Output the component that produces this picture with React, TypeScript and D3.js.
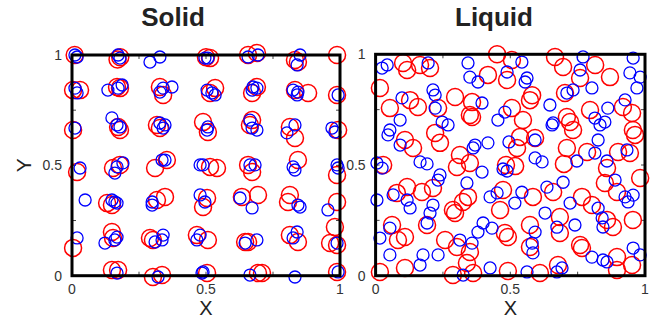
import * as d3 from "d3";
import { useEffect, useRef } from "react";

type Pt = [number, number];

// Solid: particles sitting near lattice sites (x, y in box units)
const solidRed: Pt[] = [
  [0.01, 1.0], [0.17, 0.98], [0.18, 0.99], [0.5, 0.99], [0.515, 0.986], [0.657, 1.0], [0.69, 1.009], [0.832, 0.977], [0.843, 0.968], [0.989, 1.0],
  [0.004, 0.841], [0.03, 0.841], [0.168, 0.855], [0.179, 0.85], [0.328, 0.855], [0.34, 0.819], [0.515, 0.828], [0.534, 0.85], [0.672, 0.828], [0.69, 0.855], [0.832, 0.841], [0.881, 0.828], [0.989, 0.819],
  [0.004, 0.66], [0.172, 0.674], [0.179, 0.66], [0.317, 0.683], [0.328, 0.669], [0.489, 0.696], [0.507, 0.651], [0.672, 0.705], [0.664, 0.683], [0.813, 0.674], [0.832, 0.624], [0.993, 0.66],
  [0.019, 0.47], [0.153, 0.488], [0.179, 0.502], [0.31, 0.488], [0.354, 0.524], [0.515, 0.493], [0.541, 0.488], [0.672, 0.47], [0.657, 0.502], [0.843, 0.524], [0.989, 0.456],
  [0.131, 0.329], [0.149, 0.32], [0.317, 0.343], [0.347, 0.357], [0.504, 0.352], [0.489, 0.311], [0.634, 0.357], [0.694, 0.366], [0.806, 0.334], [0.813, 0.366], [0.989, 0.334], [0.981, 0.221],
  [0.004, 0.126], [0.149, 0.198], [0.153, 0.171], [0.302, 0.162], [0.291, 0.171], [0.507, 0.162], [0.466, 0.184], [0.646, 0.153], [0.657, 0.153], [0.813, 0.184], [0.843, 0.153], [0.963, 0.148], [0.989, 0.139],
  [0.149, 0.026], [0.172, 0.026], [0.302, -0.006], [0.336, 0.003], [0.504, 0.012], [0.694, 0.012], [0.709, 0.012], [0.989, 0.017],
];

const solidBlue: Pt[] = [
  [0.011, 1.0], [0.019, 0.991], [0.172, 1.0], [0.179, 0.986], [0.291, 0.968], [0.328, 0.991], [0.496, 0.986], [0.507, 0.986], [0.657, 0.991], [0.694, 1.0], [0.851, 1.0], [0.84, 0.955],
  [0.011, 0.85], [0.019, 0.828], [0.134, 0.841], [0.172, 0.85], [0.187, 0.864], [0.34, 0.85], [0.373, 0.855], [0.328, 0.832], [0.504, 0.841], [0.522, 0.828], [0.534, 0.819], [0.675, 0.855], [0.69, 0.85], [0.672, 0.841], [0.825, 0.841], [0.84, 0.819], [0.843, 0.832], [0.993, 0.819],
  [0.011, 0.669], [0.149, 0.715], [0.168, 0.683], [0.179, 0.674], [0.328, 0.692], [0.34, 0.669], [0.347, 0.683], [0.507, 0.674], [0.504, 0.66], [0.664, 0.705], [0.69, 0.66], [0.672, 0.669], [0.832, 0.683], [0.802, 0.647], [0.97, 0.669], [0.981, 0.651],
  [0.03, 0.488], [0.16, 0.465], [0.19, 0.511], [0.168, 0.493], [0.336, 0.524], [0.347, 0.524], [0.478, 0.502], [0.489, 0.502], [0.664, 0.502], [0.683, 0.502], [0.825, 0.493], [0.832, 0.479], [0.989, 0.502], [0.993, 0.488],
  [0.049, 0.343], [0.16, 0.334], [0.149, 0.343], [0.168, 0.329], [0.299, 0.334], [0.299, 0.32], [0.478, 0.366], [0.496, 0.334], [0.627, 0.352], [0.672, 0.307], [0.843, 0.32], [0.851, 0.311], [0.955, 0.298],
  [0.019, 0.171], [0.168, 0.175], [0.123, 0.148], [0.16, 0.162], [0.34, 0.184], [0.31, 0.153], [0.336, 0.162], [0.466, 0.162], [0.478, 0.184], [0.646, 0.148], [0.69, 0.162], [0.825, 0.171], [0.84, 0.198], [0.989, 0.148],
  [0.168, 0.012], [0.321, -0.006], [0.485, 0.012], [0.489, 0.017], [0.664, 0.003], [0.832, -0.006], [0.993, 0.017],
];

// Liquid: disordered positions
const liquidRed: Pt[] = [
  [0.451, 1.0], [0.506, 0.974], [0.102, 0.961], [0.117, 0.929], [0.165, 0.952], [0.202, 0.938], [0.016, 0.848], [0.417, 0.907], [0.488, 0.884],
  [0.295, 0.807], [0.128, 0.793], [0.157, 0.762], [0.053, 0.757], [0.232, 0.757], [0.358, 0.784], [0.35, 0.726], [0.358, 0.717], [0.221, 0.645],
  [0.239, 0.6], [0.109, 0.613], [0.139, 0.577], [0.313, 0.545], [0.302, 0.491], [0.35, 0.509], [0.028, 0.5],
  [0.666, 0.988], [0.696, 0.943], [0.815, 0.952], [0.87, 0.897], [0.759, 0.893], [0.581, 0.815], [0.573, 0.793], [0.703, 0.825], [0.796, 0.748],
  [0.918, 0.762], [0.952, 0.735], [0.506, 0.757], [0.547, 0.703], [0.71, 0.717], [0.722, 0.694], [0.733, 0.658], [0.955, 0.658], [0.963, 0.636],
  [0.536, 0.627], [0.592, 0.622], [0.525, 0.577], [0.71, 0.577], [0.785, 0.559], [0.9, 0.559], [0.944, 0.554], [0.484, 0.5], [0.518, 0.495], [0.699, 0.505],
  [0.117, 0.401], [0.079, 0.374], [0.172, 0.378], [0.213, 0.396], [0.287, 0.297], [0.295, 0.283], [0.324, 0.333], [0.343, 0.356], [0.473, 0.387],
  [0.462, 0.297], [0.061, 0.229], [0.083, 0.161], [0.109, 0.175], [0.191, 0.229], [0.258, 0.161], [0.302, 0.13], [0.35, 0.107], [0.339, 0.057],
  [0.48, 0.193], [0.491, 0.175], [0.016, 0.017], [0.109, 0.035], [0.287, 0.003], [0.362, 0.012], [0.491, 0.021],
  [0.859, 0.486], [0.982, 0.441], [0.584, 0.356], [0.659, 0.378], [0.766, 0.356], [0.803, 0.319], [0.851, 0.419], [0.896, 0.378], [0.955, 0.252],
  [0.684, 0.265], [0.573, 0.229], [0.684, 0.193], [0.759, 0.139], [0.766, 0.125], [0.859, 0.252], [0.881, 0.22], [0.573, 0.13], [0.896, 0.084],
  [0.952, 0.048], [0.896, 0.026], [0.677, 0.048], [0.61, 0.012],
];

const liquidBlue: Pt[] = [
  [0.024, 0.938], [0.043, 0.952], [0.195, 0.961], [0.343, 0.961], [0.35, 0.897], [0.38, 0.875], [0.488, 0.92], [0.213, 0.839], [0.221, 0.816],
  [0.098, 0.803], [0.221, 0.757], [0.395, 0.78], [0.091, 0.703], [0.247, 0.694], [0.269, 0.681], [0.454, 0.703], [0.48, 0.739], [0.053, 0.658],
  [0.046, 0.636], [0.091, 0.59], [0.369, 0.59], [0.362, 0.577], [0.417, 0.6], [0.495, 0.604], [0.005, 0.509], [0.165, 0.514], [0.191, 0.505],
  [0.543, 0.965], [0.77, 0.988], [0.956, 0.983], [0.562, 0.893], [0.555, 0.875], [0.759, 0.929], [0.944, 0.916], [0.982, 0.897], [0.97, 0.848],
  [0.71, 0.825], [0.733, 0.839], [0.803, 0.848], [0.647, 0.771], [0.862, 0.757], [0.926, 0.794], [0.655, 0.681], [0.659, 0.69], [0.814, 0.712],
  [0.833, 0.681], [0.851, 0.694], [0.592, 0.613], [0.826, 0.613], [0.814, 0.554], [0.933, 0.568], [0.592, 0.532], [0.618, 0.514], [0.747, 0.518], [0.859, 0.518],
  [0.024, 0.486], [0.239, 0.455], [0.232, 0.432], [0.339, 0.419], [0.395, 0.468], [0.005, 0.342], [0.065, 0.365], [0.117, 0.342], [0.128, 0.306],
  [0.213, 0.319], [0.202, 0.283], [0.191, 0.238], [0.425, 0.356], [0.451, 0.374], [0.473, 0.482], [0.488, 0.473], [0.053, 0.215], [0.016, 0.17],
  [0.399, 0.238], [0.38, 0.197], [0.432, 0.215], [0.313, 0.161], [0.358, 0.147], [0.053, 0.094], [0.176, 0.094], [0.165, 0.048], [0.232, 0.094],
  [0.325, 0.003], [0.425, 0.035],
  [0.889, 0.432], [0.696, 0.422], [0.636, 0.4], [0.543, 0.377], [0.517, 0.328], [0.722, 0.328], [0.629, 0.283], [0.74, 0.229], [0.673, 0.219],
  [0.826, 0.305], [0.841, 0.261], [0.844, 0.22], [0.926, 0.356], [0.937, 0.333], [0.956, 0.364], [0.592, 0.197], [0.581, 0.147], [0.584, 0.103],
  [0.803, 0.084], [0.844, 0.071], [0.859, 0.062], [0.956, 0.125], [0.982, 0.094], [0.562, 0.017], [0.673, 0.017], [0.692, 0.035],
];

const tickValues = [0, 0.25, 0.5, 0.75, 1];
const labelValues = [0, 0.5, 1];
const titles = ["Solid", "Liquid"];

const W = 655;
const H = 321;
const FONT = "'Liberation Sans', Arial, Helvetica, sans-serif";

const panels = [
  { title: titles[0], titleX: 173, red: solidRed, blue: solidBlue, x0: 72, x1: 340, y0: 275.7, y1: 55 },
  { title: titles[1], titleX: 494, red: liquidRed, blue: liquidBlue, x0: 375.6, x1: 645, y0: 275.7, y1: 54.3 },
];

export default function App() {
  const ref = useRef<SVGSVGElement>(null);

  useEffect(() => {
    if (!ref.current) return;
    const svg = d3.select(ref.current);
    svg.selectAll("*").remove();

    const fmt = (v: number) => (v === 0.5 ? "0.5" : String(v));

    panels.forEach((p, i) => {
      const x = d3.scaleLinear().domain([0, 1]).range([p.x0, p.x1]);
      const y = d3.scaleLinear().domain([0, 1]).range([p.y0, p.y1]);
      const g = svg.append("g");

      // inward ticks on all four sides
      const tk = 4;
      tickValues.forEach((v) => {
        g.append("line").attr("x1", x(v)).attr("x2", x(v)).attr("y1", y(0)).attr("y2", y(0) - tk)
          .attr("stroke", "#444").attr("stroke-width", 1);
        g.append("line").attr("x1", x(v)).attr("x2", x(v)).attr("y1", y(1)).attr("y2", y(1) + tk)
          .attr("stroke", "#444").attr("stroke-width", 1);
        g.append("line").attr("y1", y(v)).attr("y2", y(v)).attr("x1", x(0)).attr("x2", x(0) + tk)
          .attr("stroke", "#444").attr("stroke-width", 1);
        g.append("line").attr("y1", y(v)).attr("y2", y(v)).attr("x1", x(1)).attr("x2", x(1) - tk)
          .attr("stroke", "#444").attr("stroke-width", 1);
      });

      // tick labels
      labelValues.forEach((v) => {
        g.append("text")
          .attr("x", x(v)).attr("y", p.y0 + 18)
          .attr("text-anchor", "middle")
          .attr("font-family", FONT).attr("font-size", 14).attr("fill", "#333")
          .text(fmt(v));
        g.append("text")
          .attr("x", p.x0 - 10).attr("y", y(v) + 5)
          .attr("text-anchor", "end")
          .attr("font-family", FONT).attr("font-size", 14).attr("fill", "#333")
          .text(fmt(v));
      });

      // circles: red (big) first, blue (small) on top
      g.append("g").selectAll("circle").data(p.red).join("circle")
        .attr("cx", (d) => x(d[0])).attr("cy", (d) => y(d[1])).attr("r", 8.5)
        .attr("fill", "none").attr("stroke", "#ff0000").attr("stroke-width", 1.5);
      g.append("g").selectAll("circle").data(p.blue).join("circle")
        .attr("cx", (d) => x(d[0])).attr("cy", (d) => y(d[1])).attr("r", 6)
        .attr("fill", "none").attr("stroke", "#0000ff").attr("stroke-width", 1.3);

      // frame
      g.append("rect")
        .attr("x", x(0)).attr("y", y(1))
        .attr("width", x(1) - x(0)).attr("height", y(0) - y(1))
        .attr("fill", "none").attr("stroke", "#000").attr("stroke-width", 3);

      // titles and axis labels
      const cx = (p.x0 + p.x1) / 2;
      g.append("text")
        .attr("x", p.titleX).attr("y", 26)
        .attr("text-anchor", "middle")
        .attr("font-family", FONT).attr("font-size", 26).attr("font-weight", 700).attr("fill", "#222")
        .text(p.title);
      g.append("text")
        .attr("x", cx).attr("y", 315)
        .attr("text-anchor", "middle")
        .attr("font-family", FONT).attr("font-size", 20).attr("fill", "#222")
        .text("X");
      if (i === 0) {
        g.append("text")
          .attr("transform", `translate(31,${y(0.5)}) rotate(-90)`)
          .attr("text-anchor", "middle")
          .attr("font-family", FONT).attr("font-size", 21).attr("fill", "#222")
          .text("Y");
      }
    });
  }, []);

  return (
    <svg
      ref={ref}
      width={W}
      height={H}
      style={{ position: "absolute", left: 0, top: 0, background: "#fff" }}
    />
  );
}
